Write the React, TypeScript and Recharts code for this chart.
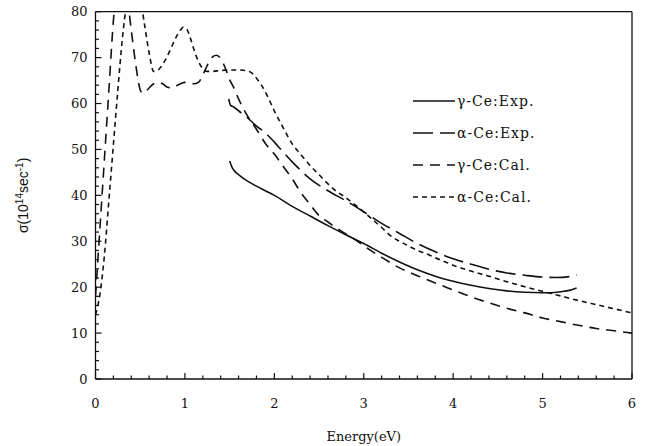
import { LineChart, Line, XAxis, YAxis, Legend } from "recharts";

// γ-Ce experiment (solid)
const gExpE = [1.5, 1.53, 1.57, 1.62, 1.7, 1.8, 1.9, 2.0, 2.2, 2.4, 2.6, 2.8, 3.0, 3.2, 3.4, 3.6, 3.8, 4.0, 4.2, 4.4, 4.6, 4.8, 5.0, 5.1, 5.2, 5.3, 5.38];
const gExpS = [47.5, 46, 45, 44.2, 43.1, 42, 41, 40.0, 37.6, 35.5, 33.4, 31.4, 29.5, 27.4, 25.5, 23.8, 22.4, 21.3, 20.4, 19.7, 19.2, 18.9, 18.8, 18.8, 19.0, 19.3, 19.8];

// α-Ce experiment (long dash)
const aExpE = [1.49, 1.51, 1.55, 1.62, 1.7, 1.8, 1.9, 2.0, 2.1, 2.2, 2.4, 2.6, 2.8, 3.0, 3.2, 3.4, 3.6, 3.8, 4.0, 4.2, 4.4, 4.6, 4.8, 5.0, 5.15, 5.3, 5.38];
const aExpS = [61, 59.6, 59.2, 58.1, 56.9, 55.1, 53.6, 51.6, 49.4, 47.3, 43.6, 41, 38.8, 36.4, 33.9, 31.7, 29.5, 27.7, 26.2, 25, 23.9, 23.1, 22.6, 22.2, 22.1, 22.3, 22.7];

// γ-Ce calculation (dash)
const gCalE = [0, 0.05, 0.1, 0.15, 0.2, 0.25, 0.3, 0.35, 0.4, 0.45, 0.5, 0.53, 0.58, 0.65, 0.7, 0.75, 0.8, 0.85, 0.9, 0.95, 1.0, 1.05, 1.1, 1.15, 1.2, 1.25, 1.3, 1.35, 1.4, 1.45, 1.5, 1.55, 1.6, 1.7, 1.8, 1.9, 2.0, 2.1, 2.2, 2.3, 2.4, 2.5, 2.6, 2.7, 2.8, 2.9, 3.0, 3.2, 3.4, 3.6, 3.8, 4.0, 4.2, 4.4, 4.6, 4.8, 5.0, 5.2, 5.4, 5.6, 5.8, 6.0];
const gCalS = [18, 33, 48, 63, 78, 87, 89, 84, 76, 68.5, 63, 62.2, 63, 64.3, 64.6, 64.3, 63.6, 63.4, 63.8, 64.3, 64.6, 64.5, 64.3, 64.6, 66.2, 68.3, 70, 70.5, 69.8, 67.8, 65.2, 63.3, 61, 57.3, 54.4, 51.3, 49, 46.3, 43.6, 40.5, 38, 35.6, 34.2, 32.8, 31.6, 30.4, 29, 26.5, 24.2, 22.5, 20.9, 19.4, 17.9, 16.6, 15.4, 14.4, 13.3, 12.5, 11.7, 11, 10.5, 10];

// α-Ce calculation (short dash)
const aCalE = [0, 0.05, 0.1, 0.15, 0.2, 0.25, 0.3, 0.35, 0.4, 0.45, 0.5, 0.55, 0.6, 0.65, 0.7, 0.75, 0.8, 0.85, 0.9, 0.95, 0.98, 1.02, 1.06, 1.1, 1.15, 1.2, 1.25, 1.3, 1.4, 1.5, 1.6, 1.7, 1.75, 1.8, 1.85, 1.9, 1.95, 2.0, 2.1, 2.2, 2.3, 2.4, 2.5, 2.6, 2.7, 2.8, 2.9, 3.0, 3.1, 3.2, 3.3, 3.4, 3.5, 3.6, 3.7, 3.8, 3.9, 4.0, 4.2, 4.4, 4.6, 4.8, 5.0, 5.2, 5.4, 5.6, 5.8, 6.0];
const aCalS = [14, 18.5, 27, 39, 51, 63, 74, 82, 86, 86, 83, 77, 71, 67, 67.3, 68.5, 70.2, 72.3, 74.4, 76, 76.6, 76.2, 74.3, 71.8, 69.2, 67.6, 67, 67, 67.2, 67.3, 67.3, 67.1, 66.6, 65.5, 64.2, 62.5, 60.5, 58.4, 54.7, 51.2, 48.8, 46.5, 44.5, 42.5, 40.8, 39.5, 38, 36.4, 34.7, 33, 31.2, 30, 29, 28, 27.3, 26.4, 25.6, 24.8, 23.5, 22.4, 21.2, 20.1, 19.1, 18.1, 17.1, 16.2, 15.3, 14.4];

const xLabels = [0, 1, 2, 3, 4, 5, 6];
const yLabels = [0, 10, 20, 30, 40, 50, 60, 70, 80];

const xTicks = Array.from({ length: 31 }, (_, i) => Math.round(i * 2) / 10);
const yTicks = Array.from({ length: 41 }, (_, i) => i * 2);

const zip = (xs: number[], ys: number[]) => xs.map((x, i) => ({ x, y: ys[i] }));

const series = [
  { name: "γ-Ce:Exp.", data: zip(gExpE, gExpS), dash: undefined },
  { name: "α-Ce:Exp.", data: zip(aExpE, aExpS), dash: "20 7" },
  { name: "γ-Ce:Cal.", data: zip(gCalE, gCalS), dash: "10 7" },
  { name: "α-Ce:Cal.", data: zip(aCalE, aCalS), dash: "5 4" },
];

const INK = "#111";
const serif = "DejaVu Serif";

const isMajor = (v: number, step: number) => Math.abs(v / step - Math.round(v / step)) < 1e-6;

const bottomTick = (p: any) => {
  const { x, y, payload } = p;
  const v = payload.value;
  const major = isMajor(v, 1);
  return (
    <g>
      <line x1={x} x2={x} y1={y} y2={y - (major ? 6 : 3.5)} stroke={INK} strokeWidth={1.2} />
      {major && xLabels.includes(v) && (
        <text x={x} y={y + 29} textAnchor="middle" fontFamily={serif} fontSize={13} fill={INK}>
          {v}
        </text>
      )}
    </g>
  );
};

const topTick = (p: any) => {
  const { x, y, payload } = p;
  const major = isMajor(payload.value, 1);
  return <line x1={x} x2={x} y1={y} y2={y + (major ? 6 : 3.5)} stroke={INK} strokeWidth={1.2} />;
};

const leftTick = (p: any) => {
  const { x, y, payload } = p;
  const v = payload.value;
  const major = isMajor(v, 10);
  return (
    <g>
      <line x1={x} x2={x + (major ? 6 : 3.5)} y1={y} y2={y} stroke={INK} strokeWidth={1.2} />
      {major && yLabels.includes(v) && (
        <text x={x - 8} y={y} dy="0.36em" textAnchor="end" fontFamily={serif} fontSize={13} fill={INK}>
          {v}
        </text>
      )}
    </g>
  );
};

const rightTick = (p: any) => {
  const { x, y, payload } = p;
  const major = isMajor(payload.value, 10);
  return <line x1={x} x2={x - (major ? 6 : 3.5)} y1={y} y2={y} stroke={INK} strokeWidth={1.2} />;
};

const yTitle = (p: any) => {
  const vb = p.viewBox || { x: 0, y: 12, width: 95, height: 367 };
  const cx = 28;
  const cy = vb.y + vb.height / 2;
  return (
    <text
      x={cx}
      y={cy}
      transform={`rotate(-90, ${cx}, ${cy})`}
      textAnchor="middle"
      fontFamily="Liberation Sans"
      fontSize={14}
      fill={INK}
    >
      σ(10
      <tspan dy={-5} fontSize={10}>14</tspan>
      <tspan dy={5}>sec</tspan>
      <tspan dy={-5} fontSize={10}>-1</tspan>
      <tspan dy={5}>)</tspan>
    </text>
  );
};

const xTitle = (p: any) => {
  const vb = p.viewBox || { x: 95, y: 379, width: 537, height: 41 };
  return (
    <text x={vb.x + vb.width / 2} y={vb.y + 62} textAnchor="middle" fontFamily={serif} fontSize={13} fill={INK}>
      Energy(eV)
    </text>
  );
};

const renderLegend = () => (
  <svg width={180} height={125}>
    {series.map((s, i) => {
      const cy = 13 + i * 32;
      return (
        <g key={s.name}>
          <line x1={3} x2={45} y1={cy} y2={cy} stroke={INK} strokeWidth={1.6} strokeDasharray={s.dash} />
          <text x={47} y={cy} dy="0.36em" fontFamily={serif} fontSize={14} letterSpacing={1} fill={INK}>
            {s.name}
          </text>
        </g>
      );
    })}
  </svg>
);

export default function App() {
  return (
    <div style={{ position: "absolute", left: 0, top: 0, background: "#fff" }}>
      <LineChart width={651} height={446} margin={{ top: 10.7, right: 18, bottom: 26, left: 0 }}>
        <XAxis
          dataKey="x"
          type="number"
          domain={[0, 6]}
          ticks={xTicks}
          interval={0}
          allowDataOverflow
          tickSize={0}
          tickMargin={0}
          tick={bottomTick}
          height={41}
          stroke={INK}
          strokeWidth={1.3}
          label={{ content: xTitle }}
        />
        <XAxis
          xAxisId="top"
          orientation="top"
          type="number"
          domain={[0, 6]}
          ticks={xTicks}
          interval={0}
          tickSize={0}
          tickMargin={0}
          tick={topTick}
          height={1}
          stroke={INK}
          strokeWidth={1.3}
        />
        <YAxis
          type="number"
          domain={[0, 80]}
          ticks={yTicks}
          interval={0}
          allowDataOverflow
          tickSize={0}
          tickMargin={0}
          tick={leftTick}
          width={95.5}
          stroke={INK}
          strokeWidth={1.3}
          label={{ content: yTitle }}
        />
        <YAxis
          yAxisId="right"
          orientation="right"
          type="number"
          domain={[0, 80]}
          ticks={yTicks}
          interval={0}
          tickSize={0}
          tickMargin={0}
          tick={rightTick}
          width={1}
          stroke={INK}
          strokeWidth={1.3}
        />
        <Legend
          layout="vertical"
          align="center"
          verticalAlign="middle"
          wrapperStyle={{ left: 410, top: 88, width: 180 }}
          content={renderLegend}
        />
        {series.map((s) => (
          <Line
            key={s.name}
            name={s.name}
            data={s.data}
            dataKey="y"
            type="monotone"
            stroke={INK}
            strokeWidth={1.6}
            strokeDasharray={s.dash}
            dot={false}
            activeDot={false}
            isAnimationActive={false}
          />
        ))}
      </LineChart>
    </div>
  );
}
